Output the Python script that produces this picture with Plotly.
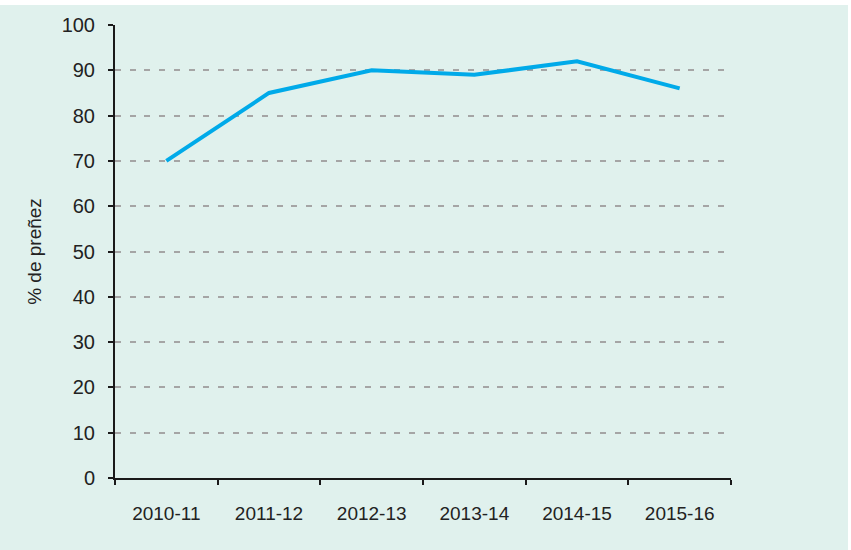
import plotly.graph_objects as go

seasons = ["2010-11", "2011-12", "2012-13", "2013-14", "2014-15", "2015-16"]
pregnancy_pct = [70, 85, 90, 89, 92, 86]
y_ticks = [0, 10, 20, 30, 40, 50, 60, 70, 80, 90, 100]

BG = "#e0f1ed"
FONT = "Liberation Sans Narrow, Arial Narrow, Liberation Sans, Arial, sans-serif"

fig = go.Figure()
fig.add_trace(go.Scatter(
    x=seasons, y=pregnancy_pct, mode="lines",
    line=dict(color="#00aae9", width=4),
    showlegend=False, hoverinfo="skip",
))

fig.add_shape(type="rect", xref="paper", yref="paper",
              x0=-115/616, x1=(848-115)/616, y0=-80/453, y1=(478-5)/453,
              fillcolor=BG, line=dict(width=0), layer="below")

fig.update_layout(
    width=851, height=550,
    margin=dict(l=115, r=120, t=25, b=72),
    paper_bgcolor="white",
    plot_bgcolor="rgba(0,0,0,0)",
    font=dict(family=FONT, size=19, color="#222222"),
)
fig.update_xaxes(
    type="category", range=[-0.5, 5.5],
    showline=True, linecolor="#1a1a1a", linewidth=2,
    ticks="outside", ticklen=5, tickwidth=2, tickcolor="#1a1a1a",
    tickson="boundaries", showgrid=False, zeroline=False,
    ticklabelstandoff=17, tickfont=dict(size=19),
)
fig.update_yaxes(
    range=[0, 100], tickvals=y_ticks,
    showline=True, linecolor="#1a1a1a", linewidth=2,
    ticks="outside", ticklen=5, tickwidth=2, tickcolor="#1a1a1a",
    showgrid=True, gridcolor="#a5a5a5", gridwidth=1.5, griddash="6px,8.7px",
    zeroline=False, ticklabelstandoff=9, tickfont=dict(size=20),
    title=dict(text="% de preñez", font=dict(size=19), standoff=15),
)

fig.write_html("out.html")
